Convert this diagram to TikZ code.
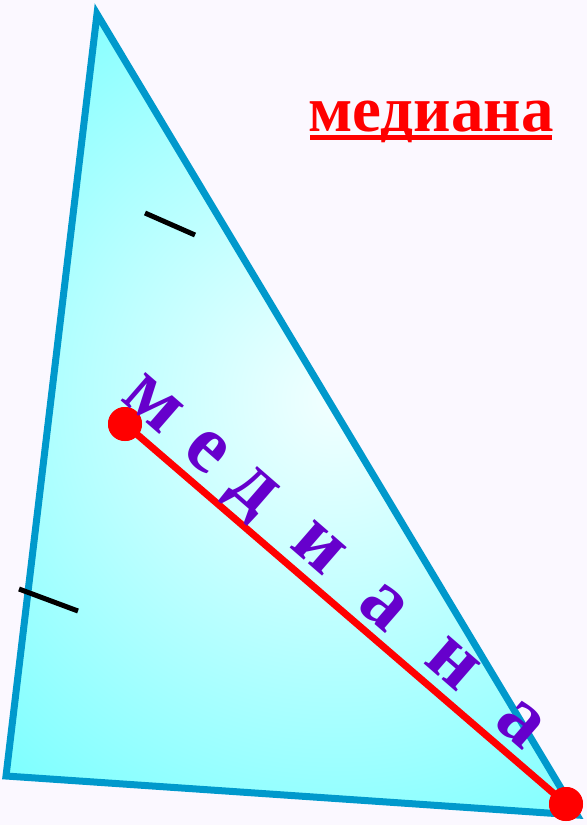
\documentclass[tikz,border=0pt]{standalone}
\usepackage{fontspec}
\setmainfont{Liberation Serif}
\definecolor{bg}{RGB}{251,248,255}
\definecolor{edgeblue}{RGB}{0,153,204}
\definecolor{cyanout}{RGB}{102,255,255}
\definecolor{cyanin}{RGB}{242,255,255}
\definecolor{purp}{RGB}{102,0,204}
\definecolor{medred}{RGB}{255,0,0}
\begin{document}
\begin{tikzpicture}[x=1pt,y=-1pt,
  tick/.style={line width=5pt,black},
  letter/.style={inner sep=0pt,text height=37.5pt,text depth=0pt,anchor=center,
    rotate=-41,text=purp,font=\fontsize{82}{84}\selectfont\bfseries},
  dot/.style={circle,fill=medred,inner sep=0pt,minimum size=34pt}]
\fill[bg] (0,0) rectangle (587,825);
\useasboundingbox (0,0) rectangle (587,825);
\coordinate (A) at (97,14);
\coordinate (B) at (6,776);
\coordinate (C) at (577,815);
\begin{scope}
  \clip (A) -- (B) -- (C) -- cycle;
  \shade[inner color=cyanin,outer color=cyanout] (335,400) circle (600);
\end{scope}
\draw[edgeblue,line width=7pt,line join=miter] (A) -- (B) -- (C) -- cycle;
\draw[tick] (145,213) -- (195,235);
\draw[tick] (19,589) -- (78,611);
\node[dot] (M) at (125,424) {};
\node[dot] (N) at (566,804) {};
\draw[medred,line width=7pt] (M.center) -- (N.center);
\node[dot] at (125,424) {};
\node[dot] at (566,804) {};
\node[letter] (l1) at (153,404) {м};
\node[letter] (l2) at (207,451) {е};
\node[letter] (l3) at (254,489) {д};
\node[letter] (l4) at (319,548) {и};
\node[letter] (l5) at (383,607) {а};
\node[letter] (l6) at (453,664) {н};
\node[letter] (l7) at (520,724) {а};
\node[inner sep=0pt,anchor=base,text=medred,font=\fontsize{65}{70}\selectfont\bfseries] (title) at (431,131) {медиана};
\fill[medred] (310,135) rectangle (552,140);
\end{tikzpicture}
\end{document}
